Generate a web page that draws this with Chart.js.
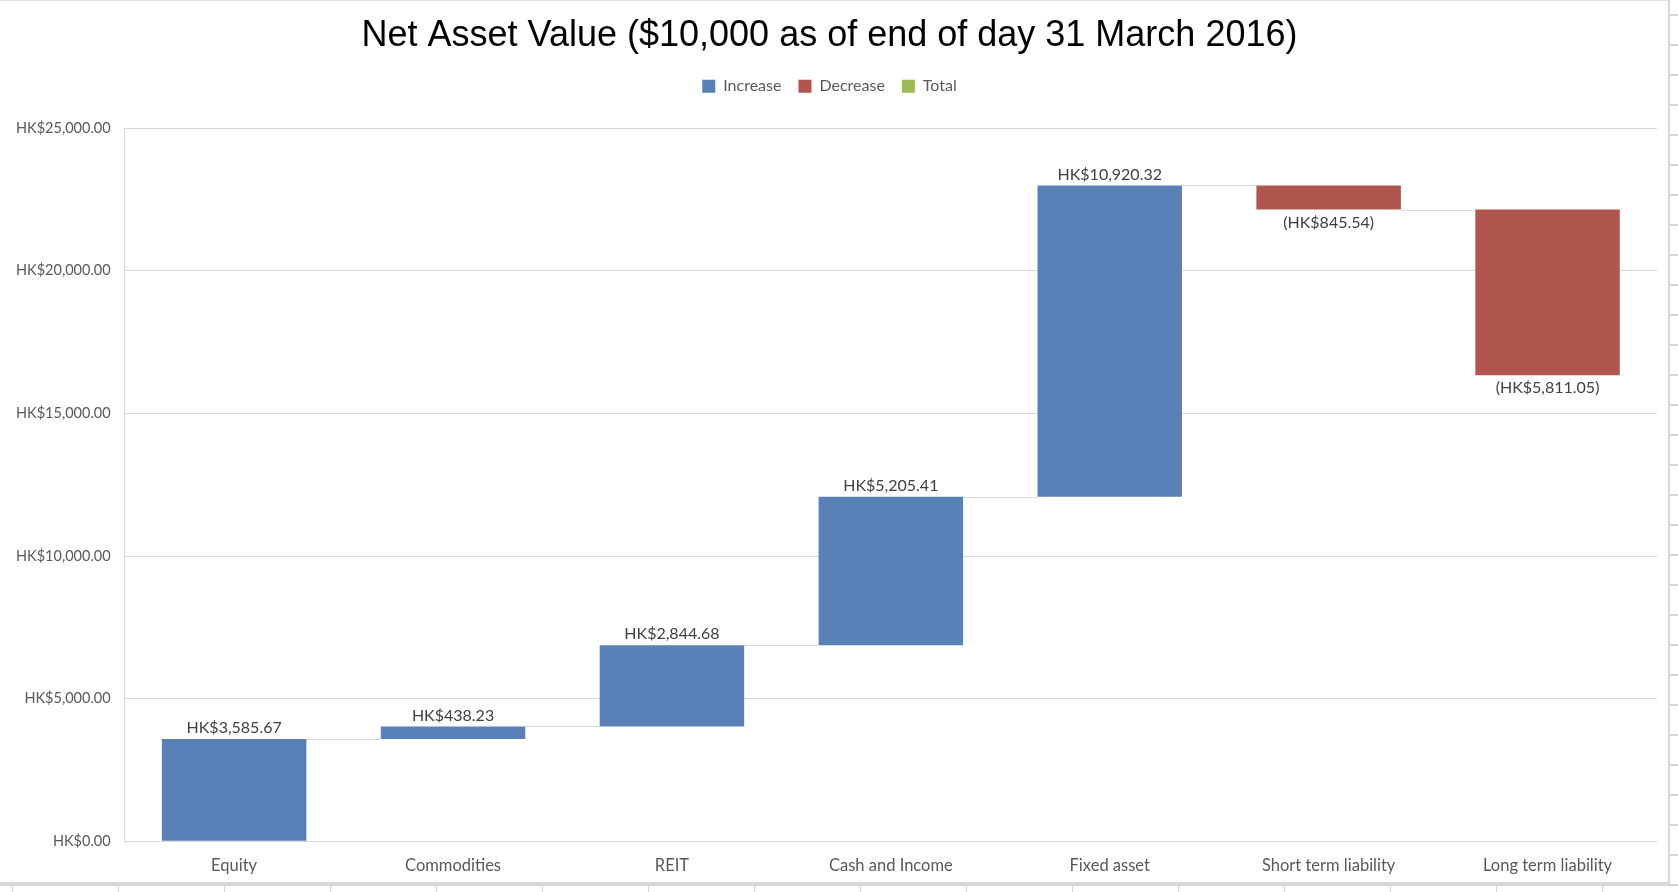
<!DOCTYPE html>
<html>
<head>
<meta charset="utf-8">
<script src="https://cdn.jsdelivr.net/npm/chart.js@4/dist/chart.umd.min.js"></script>
<style>
  html, body { margin: 0; padding: 0; width: 1678px; height: 892px; overflow: hidden; }
  body {
    background-color: #fff;
    background-image:
      repeating-linear-gradient(to bottom, transparent 0, transparent 14px, #d4d4d4 14px, #d4d4d4 16px, transparent 16px, transparent 30px),
      repeating-linear-gradient(to right, transparent 0, transparent 12px, #d4d4d4 12px, #d4d4d4 13px, transparent 13px, transparent 106px);
  }
  #wrap {
    position: absolute; left: 0; top: 0; width: 1670px; height: 885px; background: #fff;
    border-top: 1px solid #e0e0e0; border-right: 2px solid #d9d9d9; border-bottom: 3px solid #d9d9d9;
    box-sizing: border-box;
  }
  #wrap canvas { position: absolute; left: 0; top: 0; }
</style>
</head>
<body>
<div id="wrap"><canvas id="chart" width="1668" height="882"></canvas></div>
<script>
// categorias y variaciones
const categories = ['Equity', 'Commodities', 'REIT', 'Cash and Income', 'Fixed asset', 'Short term liability', 'Long term liability'];
const changes = [3585.67, 438.23, 2844.68, 5205.41, 10920.32, -845.54, -5811.05];
const totals = [null, null, null, null, null, null, null];

const blue = '#5A80B8';
const red = '#B0564F';
const green = '#9BBB59';

// rangos flotantes a partir de los acumulados
let running = 0;
const increase = [];
const decrease = [];
const ends = [];
changes.forEach(v => {
    const start = running;
    running += v;
    ends.push(running);
    if (v >= 0) { increase.push([start, running]); decrease.push(null); }
    else { decrease.push([start, running]); increase.push(null); }
});

const money = v => {
    const s = 'HK$' + Math.abs(v).toLocaleString('en-US', { minimumFractionDigits: 2, maximumFractionDigits: 2 });
    return v < 0 ? '(' + s + ')' : s;
};

// espacio extra bajo la leyenda
const legendGap = {
    id: 'legendGap',
    beforeInit(chart) {
        const fit = chart.legend.fit;
        chart.legend.fit = function () {
            fit.bind(this)();
            this.height += 24;
        };
    }
};

// lineas de conexion y etiquetas
const waterfallPlugin = {
    id: 'waterfall',
    beforeDatasetsDraw(chart) {
        const ctx = chart.ctx;
        const y = chart.scales.y;
        const bars = categories.map((c, i) => {
            const m = changes[i] >= 0 ? chart.getDatasetMeta(0) : chart.getDatasetMeta(1);
            return m.data[i];
        });
        ctx.save();
        ctx.strokeStyle = '#d9d9d9';
        ctx.lineWidth = 1;
        for (let i = 0; i < bars.length - 1; i++) {
            const a = bars[i], b = bars[i + 1];
            const py = Math.round(y.getPixelForValue(ends[i])) + 0.5;
            ctx.beginPath();
            ctx.moveTo(a.x + a.width / 2, py);
            ctx.lineTo(b.x - b.width / 2, py);
            ctx.stroke();
        }
        ctx.restore();
    },
    afterDatasetsDraw(chart) {
        const ctx = chart.ctx;
        const y = chart.scales.y;
        ctx.save();
        ctx.font = '16px Lato';
        ctx.fillStyle = '#404040';
        ctx.textAlign = 'center';
        changes.forEach((v, i) => {
            if (v >= 0) {
                const el = chart.getDatasetMeta(0).data[i];
                ctx.textBaseline = 'bottom';
                ctx.fillText(money(v), el.x, y.getPixelForValue(ends[i]) - 3);
            } else {
                const el = chart.getDatasetMeta(1).data[i];
                ctx.textBaseline = 'top';
                ctx.fillText(money(v), el.x, y.getPixelForValue(ends[i]) + 5);
            }
        });
        ctx.restore();
    }
};

new Chart(document.getElementById('chart').getContext('2d'), {
    type: 'bar',
    data: {
        labels: categories,
        datasets: [
            { label: 'Increase', data: increase, backgroundColor: blue, grouped: false, barPercentage: 0.66, categoryPercentage: 1 },
            { label: 'Decrease', data: decrease, backgroundColor: red, grouped: false, barPercentage: 0.66, categoryPercentage: 1 },
            { label: 'Total', data: totals, backgroundColor: green, grouped: false, barPercentage: 0.66, categoryPercentage: 1 }
        ]
    },
    options: {
        responsive: false,
        animation: false,
        layout: { padding: { left: 2, right: 11, top: 2, bottom: 0 } },
        plugins: {
            title: {
                display: true,
                text: 'Net Asset Value ($10,000 as of end of day 31 March 2016)',
                font: { family: 'Liberation Sans', size: 36, weight: 'normal' },
                color: '#000',
                padding: { top: 11, bottom: 4 }
            },
            legend: {
                labels: {
                    font: { family: 'Lato', size: 16 },
                    color: '#595959',
                    boxWidth: 13,
                    boxHeight: 13,
                    padding: 17
                }
            },
            tooltip: { enabled: false }
        },
        scales: {
            x: {
                grid: { display: false },
                border: { display: false },
                ticks: { font: { family: 'Lato', size: 16.5 }, color: '#595959', padding: 7 }
            },
            y: {
                min: 0,
                max: 25000,
                ticks: {
                    stepSize: 5000,
                    font: { family: 'Lato', size: 14.5 },
                    color: '#595959',
                    padding: 14,
                    callback: v => money(v)
                },
                grid: { color: '#d9d9d9', drawTicks: false },
                border: { color: '#d9d9d9' }
            }
        }
    },
    plugins: [legendGap, waterfallPlugin]
});
</script>
</body>
</html>
